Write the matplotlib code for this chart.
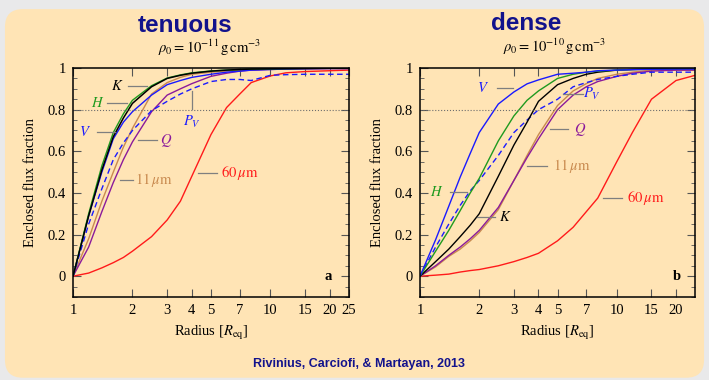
import numpy as np
import matplotlib
matplotlib.use('Agg')
import matplotlib.pyplot as plt
from matplotlib.patches import FancyBboxPatch
from matplotlib.ticker import FixedLocator, MultipleLocator, NullLocator

plt.rcParams['font.family'] = ['Liberation Serif', 'DejaVu Serif']
plt.rcParams['mathtext.fontset'] = 'stix'

# radius grid [R_eq], shared by all curves
radius = [1, 1.2, 1.4, 1.6, 1.8, 2.0, 2.5, 3, 3.5, 4, 5, 6, 7, 8, 10, 12, 15, 20, 25]

# tenuous disk, rho0 = 1e-11
ten_K = [0, 0.29, 0.51, 0.67, 0.76, 0.83, 0.91, 0.95, 0.965, 0.975, 0.985, 0.99, 0.993, 0.995, 0.996, 0.997, 0.998, 0.999, 1.0]
ten_H = [0, 0.30, 0.53, 0.69, 0.78, 0.845, 0.915, 0.952, 0.967, 0.977, 0.986, 0.99, 0.993, 0.995, 0.996, 0.997, 0.998, 0.999, 1.0]
ten_V = [0, 0.29, 0.50, 0.66, 0.74, 0.79, 0.87, 0.92, 0.94, 0.955, 0.97, 0.98, 0.985, 0.99, 0.993, 0.995, 0.997, 0.998, 0.998]
ten_PV = [0, 0.25, 0.42, 0.56, 0.64, 0.70, 0.795, 0.84, 0.875, 0.90, 0.935, 0.945, 0.945, 0.94, 0.965, 0.968, 0.97, 0.97, 0.97]
ten_Q = [0, 0.14, 0.31, 0.45, 0.56, 0.645, 0.79, 0.87, 0.90, 0.925, 0.96, 0.975, 0.985, 0.99, 0.993, 0.995, 0.996, 0.997, 0.997]
ten_11 = [0, 0.18, 0.36, 0.50, 0.62, 0.71, 0.875, 0.93, 0.955, 0.97, 0.98, 0.985, 0.99, 0.99, 0.995, 0.996, 0.997, 0.998, 0.998]
ten_60 = [0, 0.015, 0.04, 0.065, 0.09, 0.12, 0.19, 0.27, 0.36, 0.48, 0.68, 0.81, 0.875, 0.93, 0.962, 0.977, 0.983, 0.987, 0.99]

# dense disk, rho0 = 1e-10
den_K = [0, 0.07, 0.13, 0.19, 0.245, 0.30, 0.48, 0.63, 0.74, 0.84, 0.92, 0.95, 0.97, 0.98, 0.99, 0.993, 0.995, 0.997, 0.998]
den_H = [0, 0.12, 0.22, 0.315, 0.40, 0.47, 0.65, 0.77, 0.845, 0.89, 0.95, 0.97, 0.98, 0.985, 0.99, 0.993, 0.995, 0.997, 0.997]
den_V = [0, 0.175, 0.336, 0.476, 0.59, 0.69, 0.827, 0.885, 0.924, 0.943, 0.97, 0.975, 0.98, 0.987, 0.99, 0.992, 0.994, 0.995, 0.995]
den_PV = [0, 0.14, 0.25, 0.34, 0.41, 0.46, 0.58, 0.69, 0.75, 0.80, 0.85, 0.91, 0.93, 0.945, 0.96, 0.97, 0.98, 0.98, 0.98]
den_Q = [0, 0.05, 0.10, 0.14, 0.18, 0.22, 0.33, 0.46, 0.57, 0.66, 0.80, 0.87, 0.91, 0.935, 0.96, 0.975, 0.985, 0.99, 0.99]
den_11 = [0, 0.045, 0.095, 0.13, 0.17, 0.21, 0.32, 0.46, 0.58, 0.68, 0.82, 0.89, 0.925, 0.95, 0.97, 0.98, 0.99, 0.99, 0.99]
den_60 = [0, 0.005, 0.01, 0.02, 0.027, 0.032, 0.05, 0.07, 0.09, 0.11, 0.17, 0.235, 0.31, 0.375, 0.55, 0.69, 0.85, 0.94, 0.965]

x_ticks = [1, 2, 3, 4, 5, 7, 10, 15, 20, 25]

c_K = 'black'
c_H = '#1f9a1f'
c_V = '#1a1aff'
c_Q = '#8b1a9b'
c_11 = '#c98a4f'
c_60 = '#ff1a1a'
c_lead = '#7f7f7f'
bg = '#ffe4b5'
navy = '#12128c'


def label(ax, text, color, tx, ty, x0, x1, ha='center'):
    ''' curve label with its short grey leader line '''
    ax.plot([x0, x1], [ty, ty], color=c_lead, lw=0.9)
    ax.text(tx, ty, text, color=color, fontsize=10.5, ha=ha, va='center')


def draw_panel(ax, curves, show_25):
    for y, color, ls, lw in curves:
        ax.plot(radius, y, color=color, ls=ls, lw=lw, dashes=(4, 2.5) if ls == '--' else (None, None))
    ax.axhline(0.8, color='#6e6e6e', ls=':', lw=0.8)
    ax.set_xscale('log')
    ax.set_xlim(1, 25)
    ax.set_ylim(-0.1, 1.0)
    ticks = x_ticks if show_25 else x_ticks[:-1]
    ax.xaxis.set_major_locator(FixedLocator(ticks))
    ax.xaxis.set_minor_locator(NullLocator())
    ax.set_xticklabels([str(t) for t in ticks])
    ax.yaxis.set_major_locator(FixedLocator([0, 0.2, 0.4, 0.6, 0.8, 1.0]))
    ax.set_yticklabels(['0', '0.2', '0.4', '0.6', '0.8', '1'])
    ax.yaxis.set_minor_locator(MultipleLocator(0.05))
    ax.tick_params(which='both', direction='in', top=True, right=True,
                   color='#555555', labelsize=10.5, pad=5)
    ax.tick_params(which='major', length=6)
    ax.tick_params(which='minor', length=3)
    ax.set_xlabel(r'Radius [$R_{\rm eq}$]', fontsize=10.5, labelpad=5)
    ax.set_ylabel('Enclosed flux fraction', fontsize=10.5, labelpad=8)
    ax.set_facecolor('none')
    for s in ax.spines.values():
        s.set_linewidth(1.1)


fig = plt.figure(figsize=(7.09, 3.80), dpi=100)
fig.patch.set_facecolor('#e9e9ea')
fig.patches.append(FancyBboxPatch((0.007, 0.006), 0.986, 0.97,
                                  boxstyle='round,pad=0,rounding_size=0.025',
                                  transform=fig.transFigure, facecolor=bg,
                                  edgecolor='none', zorder=-10,
                                  mutation_aspect=709 / 380))

ax1 = fig.add_axes([0.103, 0.2184, 0.389, 0.6026])
ax2 = fig.add_axes([0.5924, 0.2184, 0.388, 0.6026])

draw_panel(ax1, [(ten_60, c_60, '-', 1.0), (ten_11, c_11, '-', 1.0),
                 (ten_Q, c_Q, '-', 1.0), (ten_PV, c_V, '--', 1.0),
                 (ten_V, c_V, '-', 1.0), (ten_H, c_H, '-', 1.0),
                 (ten_K, c_K, '-', 1.1)], True)
draw_panel(ax2, [(den_60, c_60, '-', 1.0), (den_11, c_11, '-', 1.0),
                 (den_Q, c_Q, '-', 1.0), (den_PV, c_V, '--', 1.0),
                 (den_K, c_K, '-', 1.0), (den_H, c_H, '-', 1.0),
                 (den_V, c_V, '-', 1.0)], False)

# labels, tenuous
label(ax1, '$K$', c_K, 1.67, 0.915, 1.90, 2.37)
label(ax1, '$H$', c_H, 1.33, 0.833, 1.49, 1.88)
label(ax1, '$V$', c_V, 1.15, 0.695, 1.32, 1.63)
ax1.plot([4.01, 4.01], [0.805, 0.89], color=c_lead, lw=0.9)
ax1.text(4.01, 0.74, '$P_V$', color=c_V, fontsize=10.5, ha='center', va='center')
label(ax1, '$Q$', c_Q, 2.98, 0.652, 2.13, 2.66)
label(ax1, r'$11\,\mu\mathrm{m}$', c_11, 2.06, 0.462, 1.73, 2.01, ha='left')
label(ax1, r'$60\,\mu\mathrm{m}$', c_60, 5.62, 0.495, 4.29, 5.36, ha='left')
ax1.text(19.6, 0.0, 'a', fontsize=10.5, fontweight='bold', ha='center', va='center')

# labels, dense
label(ax2, '$V$', c_V, 2.09, 0.904, 2.46, 2.97)
label(ax2, '$P_V$', c_V, 7.5, 0.875, 5.33, 6.73)
label(ax2, '$Q$', c_Q, 6.5, 0.707, 4.58, 5.66)
label(ax2, r'$11\,\mu\mathrm{m}$', c_11, 4.74, 0.529, 3.5, 4.42, ha='left')
label(ax2, '$H$', c_H, 1.22, 0.404, 1.42, 1.73)
label(ax2, '$K$', c_K, 2.7, 0.284, 1.95, 2.41)
label(ax2, r'$60\,\mu\mathrm{m}$', c_60, 11.3, 0.375, 8.5, 10.6, ha='left')
ax2.text(20.2, 0.0, 'b', fontsize=10.5, fontweight='bold', ha='center', va='center')

# titles
fig.text(185 / 709, 1 - 25 / 380, 'tenuous', family='Liberation Sans', fontweight='bold',
         fontsize=17.5, color=navy, ha='center', va='center')
fig.text(526 / 709, 1 - 24 / 380, 'dense', family='Liberation Sans', fontweight='bold',
         fontsize=17.5, color=navy, ha='center', va='center')
fig.text(210 / 709, 1 - 48 / 380, r'$\rho_0 = 10^{-11}\,\mathrm{g\,cm^{-3}}$',
         fontsize=10.5, ha='center', va='center')
fig.text(555 / 709, 1 - 47 / 380, r'$\rho_0 = 10^{-10}\,\mathrm{g\,cm^{-3}}$',
         fontsize=10.5, ha='center', va='center')
fig.text(359 / 709, 1 - 364 / 380, 'Rivinius, Carciofi, & Martayan, 2013',
         family='Liberation Sans', fontweight='bold', fontsize=9, color=navy,
         ha='center', va='center')

fig.savefig('out.png', dpi=100, facecolor=fig.get_facecolor())
